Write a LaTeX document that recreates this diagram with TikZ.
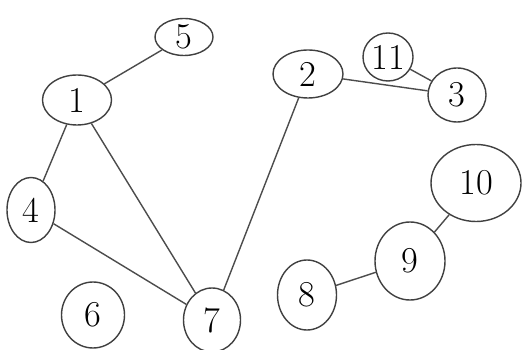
\documentclass[tikz,border=0pt]{standalone}
\usepackage{tikz}
\usetikzlibrary{shapes.geometric}

\tikzset{
    vert/.style 2 args={ellipse, draw=black!75, thick, inner sep=0pt, font=\huge,
        minimum width=#1*0.02cm, minimum height=#2*0.02cm},
    edge/.style={draw=black!70, thick}
}

\begin{document}
\begin{tikzpicture}[x=0.02cm, y=-0.02cm]
	    \useasboundingbox (0,0) rectangle (526,350);
	    \node[vert={58}{37}] (n5) at (184,37) {5};
	    \node[vert={69}{50}] (n1) at (77,100) {1};
	    \node[vert={70}{48}] (n2) at (308,74) {2};
	    \node[vert={50}{48}] (n11) at (388,57) {11};
	    \node[vert={58}{54}] (n3) at (457,95) {3};
	    \node[vert={90}{77}] (n10) at (476,183) {10};
	    \node[vert={70}{78}] (n9) at (410,261) {9};
	    \node[vert={59}{70}] (n8) at (307,295) {8};
	    \node[vert={48}{65}] (n4) at (31,210) {4};
	    \node[vert={63}{66}] (n6) at (93,315) {6};
	    \node[vert={57}{64}] (n7) at (212,320) {7};
	    \draw[edge] (n1) -- (n5);
	    \draw[edge] (n1) -- (n4);
	    \draw[edge] (n1) -- (n7);
	    \draw[edge] (n4) -- (n7);
	    \draw[edge] (n7) -- (n2);
	    \draw[edge] (n2) -- (n3);
	    \draw[edge] (n11) -- (n3);
	    \draw[edge] (n9) -- (n10);
	    \draw[edge] (n8) -- (n9);
	\end{tikzpicture}
\end{document}
